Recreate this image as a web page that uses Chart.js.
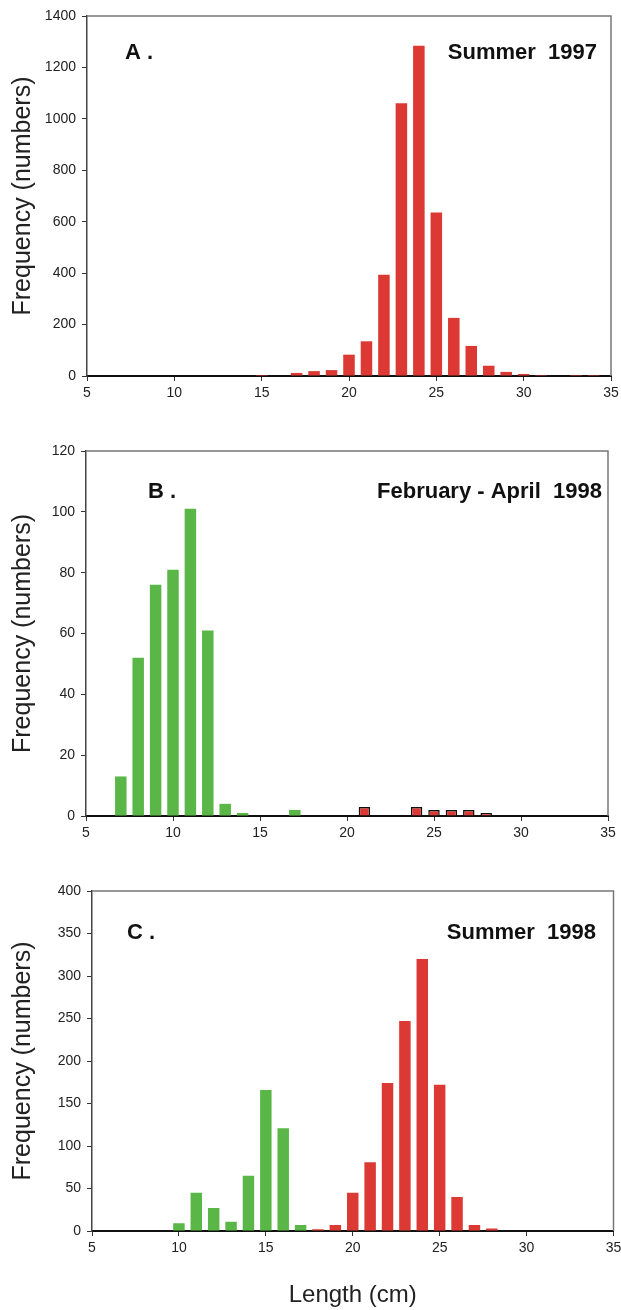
<!DOCTYPE html>
<html>
<head>
<meta charset="utf-8">
<script src="https://cdn.jsdelivr.net/npm/chart.js@4.4.0/dist/chart.umd.min.js"></script>
<style>
  body { margin: 0; background: #fff; }
  #wrap { position: relative; width: 621px; height: 1310px; background: #fff; }
  canvas { position: absolute; left: 0; }
</style>
</head>
<body>
<div id="wrap">
  <canvas id="chartA" width="621" height="420" style="top:0px"></canvas>
  <canvas id="chartB" width="621" height="440" style="top:420px"></canvas>
  <canvas id="chartC" width="621" height="450" style="top:860px"></canvas>
</div>
<script>
// length classes (cm)
const lengths = [7, 8, 9, 10, 11, 12, 13, 14, 15, 16, 17, 18, 19, 20, 21, 22, 23, 24, 25, 26, 27, 28, 29, 30, 31, 32, 33, 34];

// A. Summer 1997
const summer97Red = [null, null, null, null, null, null, null, null, 4, null, 12, 19, 23, 83, 135, 394, 1061, 1284, 636, 226, 117, 40, 16, 8, 4, null, 4, 4];

// B. February - April 1998
const febApr98Green = [13, 52, 76, 81, 101, 61, 4, 1, null, null, 2, null, null, null, null, null, null, null, null, null, null, null, null, null, null, null, null, null];
const febApr98Red = [null, null, null, null, null, null, null, null, null, null, null, null, null, null, 3, null, null, 3, 2, 2, 2, 1, null, null, null, null, null, null];

// C. Summer 1998
const summer98Green = [null, null, null, 9, 45, 27, 11, 65, 166, 121, 7, null, null, null, null, null, null, null, null, null, null, null, null, null, null, null, null, null];
const summer98Red = [null, null, null, null, null, null, null, null, null, null, null, 2, 7, 45, 81, 174, 247, 320, 172, 40, 7, 3, null, null, null, null, null, null];

const xTicks = { min: 5, max: 35, step: 5 };

const RED = '#dd3934';
const GREEN = '#5ab747';
const FONT = "'Liberation Sans', Arial, sans-serif";

Chart.defaults.font.family = FONT;
Chart.defaults.color = '#222';
Chart.defaults.animation = false;

const framePlugin = {
  id: 'frame',
  afterDraw(chart) {
    const { ctx, chartArea: a } = chart;
    ctx.save();
    ctx.strokeStyle = '#777';
    ctx.lineWidth = 1.5;
    ctx.beginPath();
    ctx.moveTo(a.left, a.top);
    ctx.lineTo(a.right, a.top);
    ctx.lineTo(a.right, a.bottom);
    ctx.stroke();
    ctx.restore();
  }
};

const textPlugin = {
  id: 'panelText',
  afterDraw(chart, args, opts) {
    const ctx = chart.ctx;
    ctx.save();
    ctx.fillStyle = '#111';
    ctx.font = 'bold 22px ' + FONT;
    ctx.textBaseline = 'middle';
    (opts.items || []).forEach(t => {
      ctx.textAlign = t.align;
      ctx.fillText(t.text, t.x, t.y);
    });
    ctx.restore();
  }
};

function makeChart(id, cfg) {
  const datasets = cfg.series.map(s => ({
    data: s.data,
    backgroundColor: s.color,
    borderColor: s.border ? '#111' : s.color,
    borderWidth: s.border ? 1.5 : 0,
    barPercentage: 0.66,
    categoryPercentage: 1
  }));

  return new Chart(document.getElementById(id), {
    type: 'bar',
    data: { labels: lengths, datasets: datasets },
    plugins: [framePlugin, textPlugin],
    options: {
      responsive: false,
      devicePixelRatio: 1,
      layout: { padding: { top: cfg.padTop, right: cfg.padRight, left: 0, bottom: 0 } },
      plugins: {
        legend: { display: false },
        tooltip: { enabled: false },
        panelText: { items: cfg.texts }
      },
      scales: {
        x: {
          type: 'linear',
          stacked: true,
          offset: false,
          min: xTicks.min,
          max: xTicks.max,
          z: 1,
          afterFit: s => {
            s.height = cfg.xHeight;
            s.paddingRight = 0;
            s.paddingLeft = 0;
          },
          ticks: { stepSize: xTicks.step, padding: 4, font: { size: 14 }, color: '#222' },
          grid: { offset: false, drawOnChartArea: false, drawTicks: true, tickLength: 5, color: '#333' },
          border: { display: true, color: '#111', width: 2 },
          title: {
            display: !!cfg.xTitle,
            text: cfg.xTitle || '',
            font: { size: 24 },
            color: '#222',
            padding: { top: 0, bottom: 0 }
          }
        },
        y: {
          stacked: true,
          min: 0,
          max: cfg.yMax,
          afterFit: s => { s.width = cfg.yWidth; },
          ticks: {
            stepSize: cfg.yStep,
            padding: 6,
            font: { size: 14 },
            color: '#222',
            callback: v => String(v)
          },
          grid: { drawOnChartArea: false, drawTicks: true, tickLength: 5, color: '#333' },
          border: { display: true, color: '#444', width: 1.5 },
          title: {
            display: true,
            text: 'Frequency (numbers)',
            font: { size: 25 },
            color: '#222',
            padding: { top: 8, bottom: 0 }
          }
        }
      }
    }
  });
}

makeChart('chartA', {
  series: [{ data: summer97Red, color: RED }],
  yMax: 1400, yStep: 200,
  padTop: 16, padRight: 10, yWidth: 87, xHeight: 44,
  texts: [
    { text: 'A .', x: 125, y: 53, align: 'left' },
    { text: 'Summer  1997', x: 597, y: 53, align: 'right' }
  ]
});

makeChart('chartB', {
  series: [
    { data: febApr98Green, color: GREEN },
    { data: febApr98Red, color: RED, border: true }
  ],
  yMax: 120, yStep: 20,
  padTop: 31, padRight: 13, yWidth: 86, xHeight: 44,
  texts: [
    { text: 'B .', x: 148, y: 72, align: 'left' },
    { text: 'February - April  1998', x: 602, y: 72, align: 'right' }
  ]
});

makeChart('chartC', {
  series: [
    { data: summer98Green, color: GREEN },
    { data: summer98Red, color: RED }
  ],
  yMax: 400, yStep: 50,
  padTop: 31, padRight: 7.5, yWidth: 92, xHeight: 79,
  xTitle: 'Length (cm)',
  texts: [
    { text: 'C .', x: 127, y: 73, align: 'left' },
    { text: 'Summer  1998', x: 596, y: 73, align: 'right' }
  ]
});
</script>
</body>
</html>
